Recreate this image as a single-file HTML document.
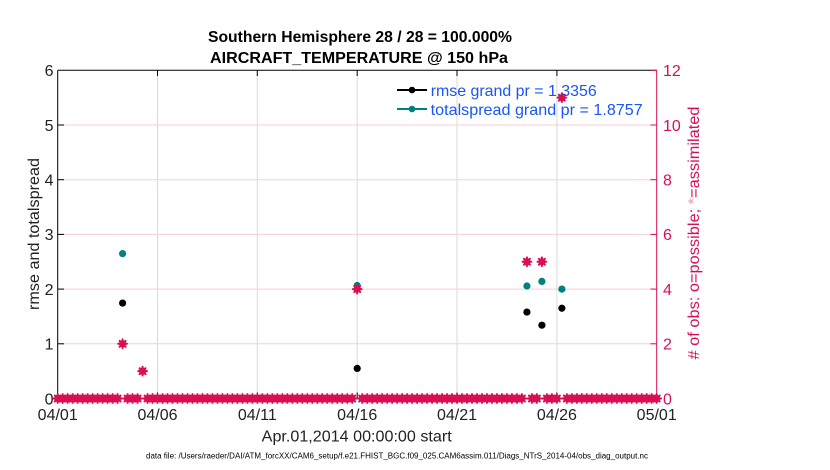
<!DOCTYPE html>
<html>
<head>
<meta charset="utf-8">
<style>
html,body{margin:0;padding:0;background:#fff;}
svg{display:block;}
text{font-family:"Liberation Sans", Arial, sans-serif;}
</style>
</head>
<body>
<svg width="830" height="470" viewBox="0 0 830 470" xmlns="http://www.w3.org/2000/svg">
<defs>
<marker id="zm" markerUnits="userSpaceOnUse" markerWidth="12" markerHeight="12" viewBox="0 0 12 12" refX="6" refY="6" overflow="visible">
<circle cx="6" cy="6" r="3.6" fill="#d80f52"/>
<path d="M6 1.6V10.4M1.6 6H10.4M3 3L9 9M9 3L3 9" stroke="#d80f52" stroke-width="2" stroke-linecap="round"/>
</marker>
</defs>
<rect width="830" height="470" fill="#fff"/>

<!-- grid vertical -->
<g stroke="#d9d9d9" stroke-width="1">
<line x1="157.5" y1="70.3" x2="157.5" y2="398.5"/>
<line x1="257.3" y1="70.3" x2="257.3" y2="398.5"/>
<line x1="357.2" y1="70.3" x2="357.2" y2="398.5"/>
<line x1="457.0" y1="70.3" x2="457.0" y2="398.5"/>
<line x1="556.9" y1="70.3" x2="556.9" y2="398.5"/>
</g>
<!-- grid horizontal pink -->
<g stroke="#f7cede" stroke-width="1">
<line x1="58" y1="343.8" x2="656.7" y2="343.8"/>
<line x1="58" y1="289.1" x2="656.7" y2="289.1"/>
<line x1="58" y1="234.4" x2="656.7" y2="234.4"/>
<line x1="58" y1="179.7" x2="656.7" y2="179.7"/>
<line x1="58" y1="125.0" x2="656.7" y2="125.0"/>
</g>

<!-- axes -->
<line x1="57.7" y1="70.3" x2="656.7" y2="70.3" stroke="#000" stroke-width="1"/>
<line x1="57.7" y1="70.3" x2="57.7" y2="398.5" stroke="#000" stroke-width="1"/>
<line x1="57.7" y1="398.5" x2="656.7" y2="398.5" stroke="#000" stroke-width="1"/>
<line x1="656.7" y1="70.3" x2="656.7" y2="398.5" stroke="#d80f52" stroke-width="1"/>

<!-- left ticks -->
<g stroke="#000" stroke-width="1">
<line x1="58" y1="343.8" x2="64" y2="343.8"/>
<line x1="58" y1="289.1" x2="64" y2="289.1"/>
<line x1="58" y1="234.4" x2="64" y2="234.4"/>
<line x1="58" y1="179.7" x2="64" y2="179.7"/>
<line x1="58" y1="125.0" x2="64" y2="125.0"/>
<!-- top ticks -->
<line x1="157.5" y1="70.3" x2="157.5" y2="76"/>
<line x1="257.3" y1="70.3" x2="257.3" y2="76"/>
<line x1="357.2" y1="70.3" x2="357.2" y2="76"/>
<line x1="457.0" y1="70.3" x2="457.0" y2="76"/>
<line x1="556.9" y1="70.3" x2="556.9" y2="76"/>
<!-- bottom ticks -->
<line x1="157.5" y1="398.5" x2="157.5" y2="392.5"/>
<line x1="257.3" y1="398.5" x2="257.3" y2="392.5"/>
<line x1="357.2" y1="398.5" x2="357.2" y2="392.5"/>
<line x1="457.0" y1="398.5" x2="457.0" y2="392.5"/>
<line x1="556.9" y1="398.5" x2="556.9" y2="392.5"/>
</g>
<!-- right ticks -->
<g stroke="#d80f52" stroke-width="1">
<line x1="650.5" y1="343.8" x2="656.7" y2="343.8"/>
<line x1="650.5" y1="289.1" x2="656.7" y2="289.1"/>
<line x1="650.5" y1="234.4" x2="656.7" y2="234.4"/>
<line x1="650.5" y1="179.7" x2="656.7" y2="179.7"/>
<line x1="650.5" y1="125.0" x2="656.7" y2="125.0"/>
<line x1="650.5" y1="70.3" x2="656.7" y2="70.3"/>
</g>

<!-- left tick labels -->
<g font-size="16" fill="#222" text-anchor="end">
<text x="53.5" y="404.3">0</text>
<text x="53.5" y="349.6">1</text>
<text x="53.5" y="294.9">2</text>
<text x="53.5" y="240.2">3</text>
<text x="53.5" y="185.5">4</text>
<text x="53.5" y="130.8">5</text>
<text x="53.5" y="76.1">6</text>
</g>
<!-- right tick labels -->
<g font-size="16" fill="#d80f52" text-anchor="start">
<text x="663" y="404.3">0</text>
<text x="663" y="349.6">2</text>
<text x="663" y="294.9">4</text>
<text x="663" y="240.2">6</text>
<text x="663" y="185.5">8</text>
<text x="663" y="130.8">10</text>
<text x="663" y="76.1">12</text>
</g>
<!-- x tick labels -->
<g font-size="16" fill="#222" text-anchor="middle">
<text x="57.7" y="420">04/01</text>
<text x="157.5" y="420">04/06</text>
<text x="257.3" y="420">04/11</text>
<text x="357.2" y="420">04/16</text>
<text x="457.0" y="420">04/21</text>
<text x="556.9" y="420">04/26</text>
<text x="656.7" y="420">05/01</text>
</g>

<!-- titles -->
<text x="360" y="42" font-size="16" font-weight="bold" text-anchor="middle" fill="#000" textLength="304" lengthAdjust="spacingAndGlyphs">Southern Hemisphere 28 / 28 = 100.000%</text>
<text x="359" y="63" font-size="16" font-weight="bold" text-anchor="middle" fill="#000" textLength="298" lengthAdjust="spacingAndGlyphs">AIRCRAFT_TEMPERATURE @ 150 hPa</text>

<text x="356.7" y="441.5" font-size="16" text-anchor="middle" fill="#222" textLength="190" lengthAdjust="spacingAndGlyphs">Apr.01,2014 00:00:00 start</text>
<text x="397" y="458.5" font-size="8" text-anchor="middle" fill="#000" textLength="502" lengthAdjust="spacingAndGlyphs">data file: /Users/raeder/DAI/ATM_forcXX/CAM6_setup/f.e21.FHIST_BGC.f09_025.CAM6assim.011/Diags_NTrS_2014-04/obs_diag_output.nc</text>

<text transform="translate(39,234) rotate(-90)" font-size="16" text-anchor="middle" fill="#222" textLength="152" lengthAdjust="spacingAndGlyphs">rmse and totalspread</text>
<text transform="translate(699,233) rotate(-90)" font-size="16" text-anchor="middle" fill="#d80f52" textLength="253" lengthAdjust="spacingAndGlyphs"># of obs: o=possible; <tspan fill="#f09ab8">*</tspan>=assimilated</text>

<!-- zero line -->
<line x1="57.7" y1="398.5" x2="656.7" y2="398.5" stroke="#d80f52" stroke-width="1.5"/>
<g fill="none" stroke="none" marker-start="url(#zm)" marker-mid="url(#zm)" marker-end="url(#zm)">
<path d="M57.7,398.5h4.9917h4.9917h4.9917h4.9917h4.9917h4.9917h4.9917h4.9917h4.9917h4.9917h4.9917h4.9917"/>
<path d="M127.58,398.5h4.9917h4.9917"/>
<path d="M147.55,398.5h4.9917h4.9917h4.9917h4.9917h4.9917h4.9917h4.9917h4.9917h4.9917h4.9917h4.9917h4.9917h4.9917h4.9917h4.9917h4.9917h4.9917h4.9917h4.9917h4.9917h4.9917h4.9917h4.9917h4.9917h4.9917h4.9917h4.9917h4.9917h4.9917h4.9917h4.9917h4.9917h4.9917h4.9917h4.9917h4.9917h4.9917h4.9917h4.9917h4.9917h4.9917"/>
<path d="M362.19,398.5h4.9917h4.9917h4.9917h4.9917h4.9917h4.9917h4.9917h4.9917h4.9917h4.9917h4.9917h4.9917h4.9917h4.9917h4.9917h4.9917h4.9917h4.9917h4.9917h4.9917h4.9917h4.9917h4.9917h4.9917h4.9917h4.9917h4.9917h4.9917h4.9917h4.9917h4.9917h4.9917"/>
<path d="M531.91,398.5h4.9917"/>
<path d="M546.89,398.5h4.9917h4.9917"/>
<path d="M566.85,398.5h4.9917h4.9917h4.9917h4.9917h4.9917h4.9917h4.9917h4.9917h4.9917h4.9917h4.9917h4.9917h4.9917h4.9917h4.9917h4.9917h4.9917h4.9917"/>
</g>

<!-- teal totalspread -->
<g fill="#008080">
<circle cx="122.59" cy="253.55" r="3.6"/>
<circle cx="357.2" cy="285.5" r="3.6"/>
<circle cx="526.93" cy="286.0" r="3.6"/>
<circle cx="541.9" cy="281.4" r="3.6"/>
<circle cx="561.87" cy="289.1" r="3.6"/>
</g>
<!-- black rmse -->
<g fill="#000">
<circle cx="122.59" cy="303.05" r="3.6"/>
<circle cx="357.2" cy="368.4" r="3.6"/>
<circle cx="526.93" cy="312.07" r="3.6"/>
<circle cx="541.9" cy="325.2" r="3.6"/>
<circle cx="561.87" cy="308.25" r="3.6"/>
</g>
<!-- crimson counts -->
<g fill="none" stroke="none" marker-start="url(#zm)">
<path d="M122.59,343.8h0"/>
<path d="M142.56,371.15h0"/>
<path d="M357.2,289.1h0"/>
<path d="M526.93,261.75h0"/>
<path d="M541.9,261.75h0"/>
<path d="M561.87,97.65h0"/>
</g>

<!-- legend -->
<line x1="397" y1="90" x2="427" y2="90" stroke="#000" stroke-width="2"/>
<circle cx="412" cy="90" r="3.3" fill="#000"/>
<line x1="397" y1="109" x2="427" y2="109" stroke="#008080" stroke-width="2"/>
<circle cx="412" cy="109" r="3.3" fill="#008080"/>
<text x="430.7" y="96" font-size="16" fill="#1a55f5" textLength="166" lengthAdjust="spacingAndGlyphs">rmse grand pr = 1.3356</text>
<text x="430.7" y="115" font-size="16" fill="#1a55f5" textLength="212" lengthAdjust="spacingAndGlyphs">totalspread grand pr = 1.8757</text>
</svg>
</body>
</html>
